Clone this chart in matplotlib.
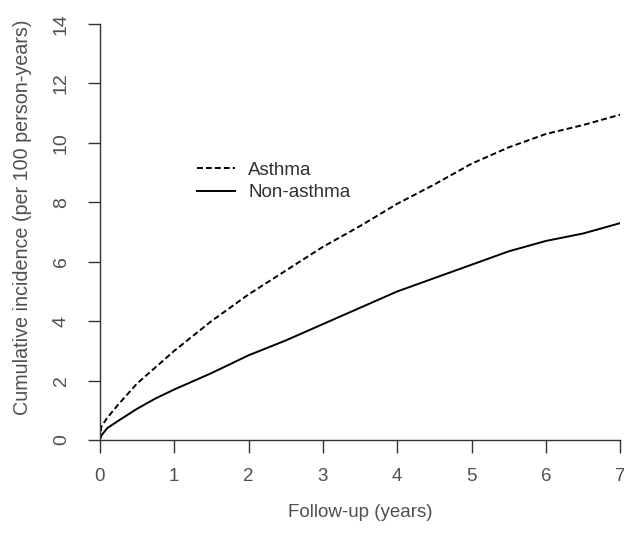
import matplotlib
matplotlib.use("Agg")
import matplotlib.pyplot as plt

# cumulative incidence curves
years = [0, 0.02, 0.1, 0.25, 0.5, 0.75, 1.0, 1.5, 2.0, 2.5, 3.0, 3.5, 4.0, 4.5, 5.0, 5.5, 6.0, 6.5, 7.0]
asthma = [0, 0.45, 0.75, 1.2, 1.9, 2.45, 3.0, 4.0, 4.9, 5.7, 6.5, 7.2, 7.95, 8.6, 9.3, 9.85, 10.3, 10.6, 10.95]
non_asthma = [0, 0.15, 0.4, 0.65, 1.05, 1.4, 1.7, 2.25, 2.85, 3.35, 3.9, 4.45, 5.0, 5.45, 5.9, 6.35, 6.7, 6.95, 7.3]

xticks = [0, 1, 2, 3, 4, 5, 6, 7]
yticks = [0, 2, 4, 6, 8, 10, 12, 14]

plt.rcParams['font.family'] = ['Liberation Sans', 'DejaVu Sans']
txt = '#505050'

fig = plt.figure(figsize=(6.24, 5.34), dpi=100)
ax = fig.add_axes([0.16, 0.176, 0.834, 0.779])

ax.plot(years, asthma, color='black', lw=1.4, ls=(0, (3, 1.6)), label='Asthma')
ax.plot(years, non_asthma, color='black', lw=1.4, label='Non-asthma')

ax.set_xlim(0, 7)
ax.set_ylim(0, 14)
ax.set_xticks(xticks)
ax.set_yticks(yticks)
for s in ['top', 'right']:
    ax.spines[s].set_visible(False)
for s in ['left', 'bottom']:
    ax.spines[s].set_color('#333333')
    ax.spines[s].set_linewidth(1.0)
ax.tick_params(length=9, width=1.0, color='#333333', labelcolor=txt)
ax.tick_params(axis='x', labelsize=13.5, pad=11)
ax.tick_params(axis='y', labelsize=14, pad=12.5)
for lab in ax.get_yticklabels():
    lab.set_rotation(90)
    lab.set_va('center')

ax.set_xlabel('Follow-up (years)', fontsize=13.5, color=txt, labelpad=14)
ax.set_ylabel('Cumulative incidence (per 100 person-years)', fontsize=14.2, color=txt)
ax.yaxis.set_label_coords(-0.13, 0.536)

leg = ax.legend(loc='upper left', bbox_to_anchor=(0.155, 0.71), frameon=False,
                fontsize=13.5, handlelength=2.0, handletextpad=0.7, labelspacing=0.3)
for t in leg.get_texts():
    t.set_color('#303030')

fig.savefig('out.png', dpi=100)
